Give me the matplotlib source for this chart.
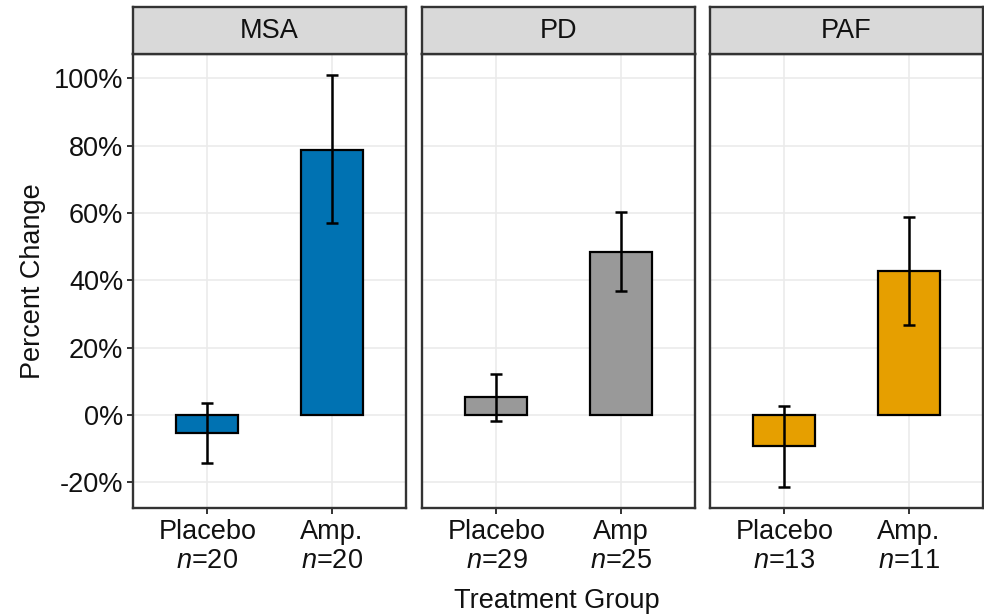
import matplotlib
matplotlib.use("Agg")
import matplotlib.pyplot as plt
from matplotlib.ticker import FuncFormatter

plt.rcParams["font.family"] = ["Liberation Sans", "DejaVu Sans"]
plt.rcParams["mathtext.fontset"] = "custom"
plt.rcParams["mathtext.rm"] = "Liberation Sans"
plt.rcParams["mathtext.it"] = "Liberation Sans:italic"

# Percent change by disease group and treatment
groups = ["MSA", "PD", "PAF"]
colors = ["#0072B2", "#999999", "#E69F00"]
treatments = [["Placebo", "Amp."], ["Placebo", "Amp"], ["Placebo", "Amp."]]
n_counts = [[20, 20], [29, 25], [13, 11]]
means = [[-5.4, 78.8], [5.4, 48.5], [-9.1, 42.8]]
err_low = [[-14.1, 56.9], [-1.7, 36.8], [-21.3, 26.7]]
err_high = [[3.5, 100.9], [12.1, 60.3], [2.7, 58.7]]
y_ticks = [-20, 0, 20, 40, 60, 80, 100]

W, H = 984, 615
fig = plt.figure(figsize=(W / 100, H / 100), dpi=100)

panel_lefts = [133, 422, 710]
panel_w = 273
panel_top, panel_bot = 54, 507.7
strip_top = 7.3
dark = "#333333"
txt = "#111111"
fs = 19.5

for i, g in enumerate(groups):
    left = panel_lefts[i] / W
    ax = fig.add_axes([left, 1 - panel_bot / H, panel_w / W, (panel_bot - panel_top) / H])
    xs = [1, 2]
    m = means[i]
    lo = [m[k] - err_low[i][k] for k in range(2)]
    hi = [err_high[i][k] - m[k] for k in range(2)]
    ax.bar(xs, m, width=0.5, color=colors[i], edgecolor="black", linewidth=1.6, zorder=2)
    ax.errorbar(xs, m, yerr=[lo, hi], fmt="none", ecolor="black", elinewidth=1.8,
                capsize=4, capthick=1.8, zorder=3)
    ax.set_xlim(0.4, 2.6)
    ax.set_ylim(-27.5, 107.2)
    ax.set_yticks(y_ticks)
    ax.set_xticks(xs)
    ax.set_xticklabels([f"{treatments[i][k]}\n$\\it{{n}}$={n_counts[i][k]}" for k in range(2)],
                       linespacing=1.15)
    ax.grid(True, color="#EBEBEB", linewidth=1.2, zorder=0)
    ax.set_axisbelow(True)
    for s in ax.spines.values():
        s.set_color(dark)
        s.set_linewidth(1.7)
    ax.tick_params(axis="both", direction="out", length=4, width=1.4, color=dark,
                   labelsize=fs, labelcolor=txt, pad=3)
    ax.tick_params(axis="x", pad=4)
    if i == 0:
        ax.yaxis.set_major_formatter(FuncFormatter(lambda v, p: f"{v:.0f}%"))
    else:
        ax.tick_params(axis="y", left=False, labelleft=False)

    # facet strip
    sax = fig.add_axes([left, 1 - panel_top / H, panel_w / W, (panel_top - strip_top) / H])
    sax.set_facecolor("#D9D9D9")
    sax.set_xticks([])
    sax.set_yticks([])
    for s in sax.spines.values():
        s.set_color(dark)
        s.set_linewidth(1.7)
    sax.text(0.5, 0.5, g, ha="center", va="center", fontsize=fs, color=txt,
             transform=sax.transAxes)

fig.text(33 / W, 1 - 281 / H, "Percent Change", rotation=90, ha="center", va="center",
         fontsize=fs, color=txt)
fig.text(557 / W, 1 - 601 / H, "Treatment Group", ha="center", va="center",
         fontsize=fs, color=txt)

fig.savefig("out.png", dpi=100)
